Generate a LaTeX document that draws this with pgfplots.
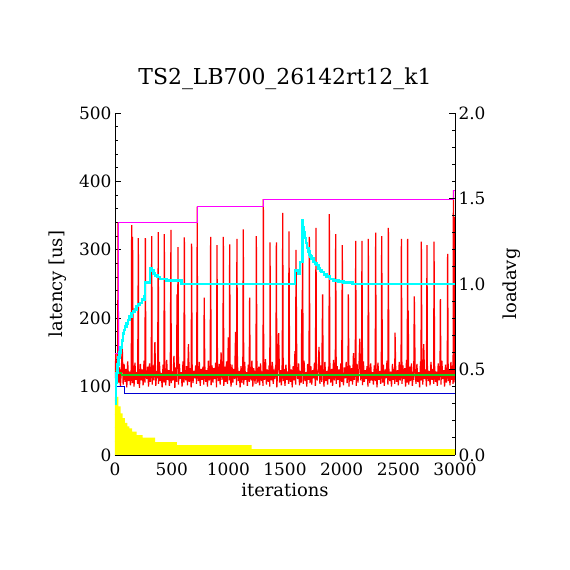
\documentclass[border=0pt]{standalone}
\usepackage{pgfplots}
\pgfplotsset{compat=1.18}
\usepackage{fontspec}
\setmainfont{DejaVu Serif}
\definecolor{cyanL}{RGB}{0,255,255}
\definecolor{magL}{RGB}{255,0,255}
\definecolor{blueL}{RGB}{0,0,210}
\definecolor{greenL}{RGB}{30,200,30}
\definecolor{yelL}{RGB}{255,255,0}
\definecolor{redL}{RGB}{255,0,0}
\pgfplotsset{
  common/.style={
    at={(115bp,115bp)}, anchor=south west,
    scale only axis, width=340bp, height=342bp,
    xmin=0, xmax=3000,
    tick align=inside,
    major tick length=6bp, minor tick length=3bp,
    tick style={black, line width=0.8bp},
    axis line style={black, line width=0.8bp},
    ticklabel style={font=\fontsize{17}{17}\selectfont},
    label style={font=\fontsize{18}{18}\selectfont},
    /pgf/number format/assume math mode=true,
    /pgf/number format/1000 sep={},
  }
}
\begin{document}
\begin{tikzpicture}
\path[use as bounding box, fill=white] (0bp,0bp) rectangle (570bp,570bp);
\begin{axis}[common,
  ymin=0, ymax=500,
  axis x line*=bottom, axis y line*=left,
  xtick={0,500,1000,1500,2000,2500,3000},
  ytick={0,100,200,300,400,500},
  minor y tick num=4,
  xticklabel style={yshift=-7bp, inner sep=1bp},
  xlabel={iterations}, ylabel={latency [us]},
  xlabel style={at={(axis description cs:0.5,-0.1228)}, anchor=base},
  ylabel style={at={(axis description cs:-0.1676,0.5)}, anchor=center, rotate=0},
  title={TS2\_LB700\_26142rt12\_k1},
  title style={font=\fontsize{22}{22}\selectfont, at={(axis description cs:0.5,1.0658)}, anchor=base},
]
\addplot[fill=yelL, draw=none, const plot] coordinates {(0,85) (29,71) (50,61) (68,54) (88,47) (109,42) (126,39) (150,34) (191,29) (244,25.3) (353,19) (546,14.6) (1206,8.7) (3000,8.7)} \closedcycle;
\addplot[redL, line width=1.25bp] coordinates {
(0,112) (8,149) (16,104) (24,131) (27,340) (32,106) (40,128) (48,101) (56,124) (64,158) (72,103)
(80,133) (88,107) (96,126) (104,99) (112,137) (120,108) (128,122) (136,102) (144,130) (147,336) (152,105) (155,319)
(160,128) (168,100) (176,135) (184,110) (192,121) (200,104) (206,317) (208,127) (216,98) (224,133) (232,109)
(240,125) (248,102) (256,138) (264,106) (268,317) (272,124) (280,111) (288,129) (296,100) (304,134) (312,107)
(320,126) (324,320) (328,103) (336,131) (344,109) (352,165) (360,101) (368,123) (376,112) (382,326) (384,104) (392,136)
(400,108) (408,120) (416,99) (424,132) (432,106) (435,323) (440,127) (448,102) (456,139) (464,110) (472,124)
(480,101) (488,130) (494,329) (496,105) (504,122) (512,109) (520,145) (528,98) (536,128) (544,107) (547,235) (552,126) (556,304)
(560,103) (568,133) (576,111) (584,121) (592,100) (600,137) (608,106) (612,318) (616,125) (624,109) (632,130)
(640,102) (648,162) (656,107) (664,127) (672,99) (676,309) (680,134) (688,105) (696,123) (704,112) (712,131)
(720,104) (726,363) (728,120) (736,108) (744,136) (752,101) (760,126) (768,110) (776,129) (784,103) (787,230) (792,132)
(800,107) (808,124) (816,100) (824,138) (832,109) (840,122) (844,319) (848,102) (856,131) (864,106) (872,127)
(880,111) (888,135) (896,99) (900,307) (904,125) (912,108) (920,133) (928,103) (936,150) (944,110) (952,121)
(956,319) (960,101) (968,129) (976,107) (984,137) (992,104) (1000,172) (1008,109) (1012,308) (1016,124) (1024,100) (1032,132)
(1040,106) (1048,126) (1056,111) (1064,180) (1072,102) (1076,316) (1080,134) (1088,108) (1096,123) (1104,99) (1112,130)
(1120,105) (1128,128) (1132,330) (1136,103) (1144,136) (1152,110) (1160,121) (1168,101) (1176,132) (1184,107) (1188,230) (1192,125)
(1200,109) (1208,138) (1216,100) (1224,127) (1232,112) (1240,123) (1244,104) (1247,320) (1252,131) (1260,106) (1268,129)
(1276,102) (1284,134) (1292,108) (1300,122) (1306,101) (1309,374) (1312,127) (1320,110) (1328,140) (1336,103) (1344,125)
(1352,107) (1360,131) (1366,100) (1368,311) (1372,126) (1380,109) (1388,136) (1396,104) (1404,121) (1412,111) (1420,133)
(1424,311) (1428,99) (1436,128) (1444,178) (1452,106) (1460,124) (1468,102) (1476,137) (1480,354) (1484,108) (1492,126)
(1500,101) (1508,132) (1516,110) (1524,122) (1532,104) (1535,327) (1540,135) (1548,107) (1556,125) (1564,99) (1572,130) (1580,109) (1588,152)
(1594,103) (1597,300) (1604,127) (1612,111) (1620,134) (1628,102) (1636,123) (1644,106) (1648,213) (1651,120) (1655,330) (1660,104) (1668,138)
(1676,108) (1684,121) (1692,100) (1700,133) (1708,110) (1712,126) (1715,319) (1720,105) (1728,130) (1736,103) (1744,124) (1752,112)
(1760,135) (1768,101) (1774,332) (1776,127) (1784,109) (1792,122) (1800,158) (1808,104) (1816,131) (1824,107) (1832,235) (1836,125) (1844,100)
(1852,136) (1860,108) (1868,123) (1876,103) (1884,129) (1888,111) (1891,352) (1896,132) (1904,106) (1912,126) (1920,101) (1928,139) (1936,109)
(1944,122) (1947,323) (1952,104) (1960,130) (1968,110) (1976,125) (1984,99) (1992,134) (2000,107) (2006,307) (2008,121) (2016,102) (2024,128)
(2032,112) (2040,136) (2048,105) (2056,123) (2059,235) (2064,100) (2072,131) (2080,108) (2088,127) (2096,103) (2104,149) (2112,110) (2120,124) (2124,313) (2128,101)
(2136,133) (2144,106) (2152,126) (2160,170) (2168,109) (2176,122) (2179,313) (2184,102) (2192,137) (2200,107) (2208,124) (2216,111) (2224,130) (2232,100) (2235,316) (2240,128)
(2248,105) (2256,134) (2264,109) (2272,121) (2280,103) (2288,131) (2296,108) (2300,325) (2304,126) (2312,99) (2320,135) (2328,110) (2336,123) (2344,104) (2350,128) (2353,320) (2360,106)
(2368,132) (2376,101) (2384,125) (2392,112) (2400,138) (2408,103) (2412,332) (2416,127) (2424,108) (2432,122) (2440,100) (2448,133) (2456,110) (2464,126) (2468,104) (2471,179) (2476,130) (2484,107)
(2492,124) (2500,102) (2508,136) (2516,109) (2524,121) (2527,316) (2532,104) (2540,131) (2548,111) (2556,127) (2564,100) (2572,139) (2578,106) (2582,316) (2584,124) (2587,211) (2592,103)
(2600,129) (2608,108) (2616,134) (2624,101) (2632,122) (2636,110) (2641,232) (2648,126) (2656,104) (2664,133) (2672,107) (2680,121) (2688,99) (2696,137) (2700,109) (2703,312) (2708,128)
(2716,103) (2724,162) (2732,111) (2740,125) (2748,100) (2753,307) (2756,131) (2764,108) (2772,123) (2780,102) (2788,136) (2796,110) (2804,126) (2812,104) (2815,312) (2820,130)
(2828,107) (2836,122) (2844,101) (2852,134) (2860,109) (2868,127) (2871,228) (2876,103) (2884,138) (2892,111) (2900,124) (2908,100) (2916,132) (2924,106) (2932,128) (2935,294) (2940,108)
(2948,125) (2956,102) (2964,136) (2972,110) (2980,131) (2983,104) (2986,387) (2988,112) (2990,340) (2992,106) (2994,348) (2996,110) (2998,330) (3000,345)
};
\addplot[greenL, line width=1.2bp, const plot] coordinates {(0,124) (15,120) (60,117) (3000,117)};
\addplot[blueL, line width=1bp, const plot] coordinates {(0,110) (12,100) (85,90.5) (3000,90.5)};
\addplot[magL, line width=1bp, const plot] coordinates {(0,149) (27,340) (726,363) (1309,374) (2986,387) (3000,387)};
\end{axis}
\begin{axis}[common,
  ymin=0, ymax=2,
  axis y line*=right, axis x line=none,
  ytick={0,0.5,1,1.5,2},
  minor y tick num=4,
  yticklabel style={/pgf/number format/.cd, fixed, fixed zerofill, precision=1},
  ylabel={loadavg},
  ylabel style={at={(axis description cs:1.1676,0.5)}, anchor=center},
]
\addplot[cyanL, line width=2.5bp, const plot] coordinates {
(0,0.30) (6,0.42) (14,0.48) (22,0.53) (30,0.57) (40,0.60) (50,0.63) (60,0.67) (70,0.71) (80,0.73) (90,0.75) (100,0.77) (115,0.79) (130,0.81) (145,0.83) (160,0.84) (176,0.85) (190,0.87) (205,0.88) (221,0.89) (240,0.91) (259,0.93) (265,1.01) (309,1.09) (322,1.08) (338,1.06) (353,1.05) (375,1.04) (397,1.03) (456,1.02) (588,1.0)
(1588,1.08) (1618,1.06) (1632,1.13) (1653,1.37) (1660,1.33) (1668,1.30) (1676,1.27) (1686,1.24) (1696,1.21) (1706,1.19) (1716,1.17) (1726,1.16) (1735,1.15) (1750,1.13) (1765,1.12) (1779,1.11) (1795,1.09) (1810,1.08) (1824,1.07) (1846,1.055) (1868,1.045) (1896,1.03) (1926,1.02) (1970,1.015) (2015,1.01) (2097,1.0) (3000,1.0)
};
\end{axis}
\end{tikzpicture}
\end{document}
